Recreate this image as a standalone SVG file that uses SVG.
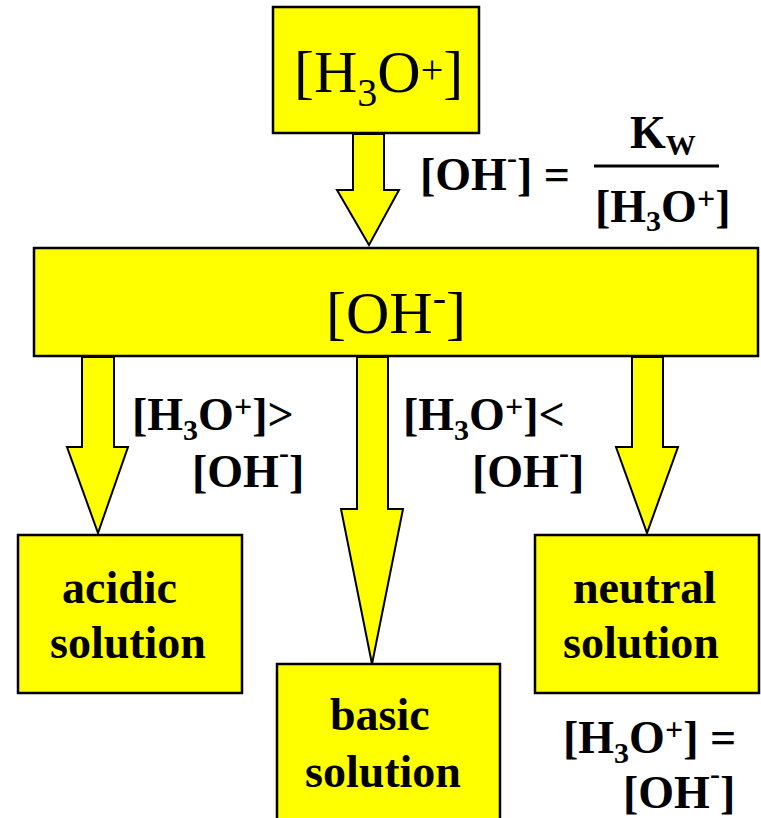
<svg xmlns="http://www.w3.org/2000/svg" width="761" height="818" viewBox="0 0 761 818">
<style>
.box{fill:#FFFF00;stroke:#000;stroke-width:2.5}
.arr{fill:#FFFF00;stroke:#000;stroke-width:2;stroke-linejoin:miter}
.reg{font-family:"Liberation Serif","Times New Roman",serif;fill:#000}
.b{font-family:"Liberation Serif","Times New Roman",serif;font-weight:bold;font-size:46px;fill:#000}
</style>
<rect width="761" height="818" fill="#fff"/>
<g id="connectors">
<polygon class="arr" points="353,134 384,134 384,190 399,190 369,245 337,190 353,190"/>
<polygon class="arr" points="82,357 114,357 114,447 128,447 98,533 67,447 82,447"/>
<polygon class="arr" points="357,357 388,357 388,509 403,509 372,664 341,509 357,509"/>
<polygon class="arr" points="632,357 663,357 663,447 678,447 647,533 616,447 632,447"/>
</g>
<g id="node-h3o">
<rect class="box" x="273" y="7" width="206" height="126"/>
<text class="reg" x="294" y="92" font-size="60">[H<tspan font-size="40" dy="14">3</tspan><tspan dy="-14">O</tspan><tspan font-size="40" dy="-9">+</tspan><tspan dy="9">]</tspan></text>
</g>
<g id="formula">
<text class="b" x="420" y="190" font-size="44">[OH<tspan font-size="30" dy="-22">-</tspan><tspan dy="22">] =</tspan></text>
<text class="b" x="630" y="148" font-size="44">K<tspan font-size="30" dy="7">W</tspan></text>
<line x1="594" y1="166" x2="719" y2="166" stroke="#000" stroke-width="3"/>
<text class="b" x="595" y="222" font-size="44">[H<tspan font-size="30" dy="9">3</tspan><tspan dy="-9">O</tspan><tspan font-size="32" dy="-13">+</tspan><tspan dy="13">]</tspan></text>
</g>
<g id="node-oh">
<rect class="box" x="34" y="248" width="724" height="108"/>
<text class="reg" x="326" y="333" font-size="60">[OH<tspan font-size="40" dy="-22">-</tspan><tspan dy="22">]</tspan></text>
</g>
<g id="label-acidic">
<text class="b" x="132" y="430">[H<tspan font-size="30" dy="10">3</tspan><tspan dy="-10">O</tspan><tspan font-size="32" dy="-13">+</tspan><tspan dy="13">]&gt;</tspan></text>
<text class="b" x="192" y="487">[OH<tspan font-size="30" dy="-24">-</tspan><tspan dy="24">]</tspan></text>
</g>
<g id="label-basic">
<text class="b" x="403" y="430">[H<tspan font-size="30" dy="10">3</tspan><tspan dy="-10">O</tspan><tspan font-size="32" dy="-13">+</tspan><tspan dy="13">]&lt;</tspan></text>
<text class="b" x="472" y="487">[OH<tspan font-size="30" dy="-24">-</tspan><tspan dy="24">]</tspan></text>
</g>
<g id="node-acidic">
<rect class="box" x="18" y="535" width="224" height="158"/>
<text class="b" x="62" y="603">acidic</text>
<text class="b" x="50" y="658">solution</text>
</g>
<g id="node-basic">
<rect class="box" x="277" y="664" width="223" height="170"/>
<text class="b" x="330" y="730">basic</text>
<text class="b" x="305" y="787">solution</text>
</g>
<g id="node-neutral">
<rect class="box" x="535" y="535" width="224" height="158"/>
<text class="b" x="573" y="603">neutral</text>
<text class="b" x="563" y="658">solution</text>
</g>
<g id="label-neutral">
<text class="b" x="563" y="753">[H<tspan font-size="30" dy="10">3</tspan><tspan dy="-10">O</tspan><tspan font-size="32" dy="-13">+</tspan><tspan dy="13">] =</tspan></text>
<text class="b" x="623" y="808">[OH<tspan font-size="30" dy="-24">-</tspan><tspan dy="24">]</tspan></text>
</g>
</svg>
